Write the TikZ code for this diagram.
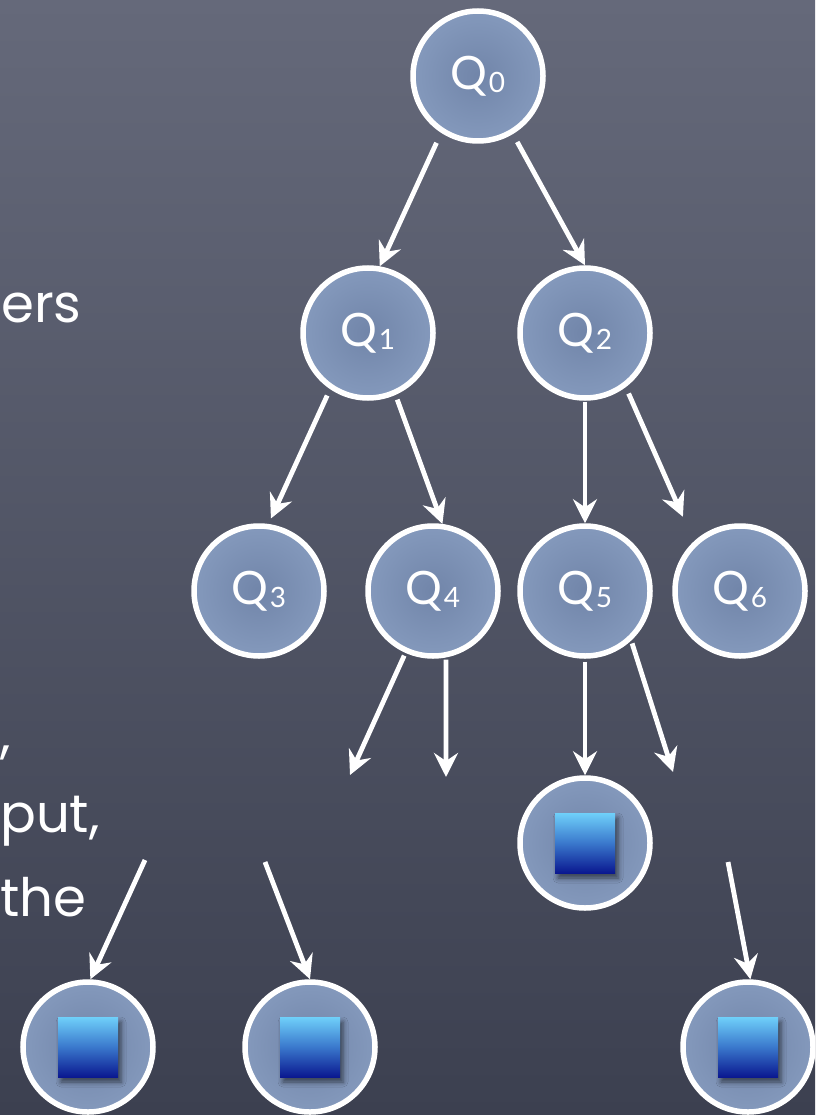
\documentclass[tikz,border=0pt]{standalone}
\usepackage{fontspec}
\setmainfont{Poppins}
\newfontfamily\qfont{Lato}
\usetikzlibrary{arrows.meta,shadows.blur}

\definecolor{bgtop}{HTML}{65697A}
\definecolor{bgmid}{HTML}{555969}
\definecolor{bgbot}{HTML}{3C4050}
\definecolor{nodein}{HTML}{7185A9}
\definecolor{nodeout}{HTML}{8499BC}
\definecolor{boxtop}{HTML}{6FD0FA}
\definecolor{boxmid}{HTML}{3A78CC}
\definecolor{boxbot}{HTML}{0A1890}

% state label: Q with a lowered index
\newcommand\qlabel[1]{{\qfont\fontsize{46}{46}\selectfont Q\kern1pt\lower3pt\hbox{\fontsize{28}{28}\selectfont #1}}}

\tikzset{
  state/.style={circle, draw=white, line width=5.5pt, inner color=nodein, outer color=nodeout,
    minimum size=130pt, inner sep=0pt, text=white},
  leafbox/.style={rectangle, minimum size=60pt, inner sep=0pt,
    top color=boxtop, bottom color=boxbot, middle color=boxmid,
    blur shadow={shadow xshift=3pt, shadow yshift=-5pt, shadow blur radius=5pt, shadow opacity=55}},
  link/.style={draw=white, line width=4.8pt, -{Stealth[length=24pt,width=24pt,inset=8pt]}},
  body/.style={anchor=base west, inner sep=0pt, text=white, font=\fontsize{53}{53}\selectfont},
}

\begin{document}
\begin{tikzpicture}[x=1pt,y=-1pt]
\useasboundingbox (0,0) rectangle (815,1115);
\clip (0,0) rectangle (815,1115);
\shade[top color=bgtop, middle color=bgmid, bottom color=bgbot] (0,0) rectangle (815,1115);

% text running in from the left
\node[body] (t1) at (1,322) {ers};
\node[body] (t2) at (0,752) {,};
\node[body] (t3) at (0,832) {put,};
\node[body] (t4) at (0,916) {the};

% tree of states
\node[state] (Q0) at (478,76)  {\qlabel{0}};
\node[state] (Q1) at (368,333) {\qlabel{1}};
\node[state] (Q2) at (585,333) {\qlabel{2}};
\node[state] (Q3) at (259,591) {\qlabel{3}};
\node[state] (Q4) at (433,591) {\qlabel{4}};
\node[state] (Q5) at (585,591) {\qlabel{5}};
\node[state] (Q6) at (740,591) {\qlabel{6}};

% leaves holding a square
\node[state] (L5) at (585,843)  {};
\node[state] (LA) at (88,1047)  {};
\node[state] (LB) at (310,1047) {};
\node[state] (LC) at (748,1047) {};
\node[leafbox] (B5) at (L5) {};
\node[leafbox] (BA) at (LA) {};
\node[leafbox] (BB) at (LB) {};
\node[leafbox] (BC) at (LC) {};

% loose arrow ends
\coordinate (F4a) at (350,775);
\coordinate (F4b) at (446,777);
\coordinate (F5b) at (673,772);
\coordinate (SA) at (145,860);
\coordinate (SB) at (265,862);
\coordinate (SC) at (728,862);

% arrows
\draw[link, shorten <=11pt] (Q0.237) -- (Q1.80);
\draw[link, shorten <=9pt]  (Q0.301) -- (Q2.90);
\draw[link, shorten <=7pt, shorten >=6pt] (Q1.236) -- (Q3.82);
\draw[link, shorten <=5pt]  (Q1.294) -- (Q4.82);
\draw[link, shorten <=1pt]  (Q2.270) -- (Q5.90);
\draw[link, shorten <=7pt, shorten >=27pt] (Q2.307) -- (Q6.133);
\draw[link, shorten <=3pt]  (Q4.246) -- (F4a);
\draw[link, shorten <=2pt]  (Q4.281) -- (F4b);
\draw[link, shorten <=3pt]  (Q5.270) -- (L5.north);
\draw[link, shorten <=3pt]  (Q5.313) -- (F5b);
\draw[link] (SA) -- (LA.88);
\draw[link] (SB) -- (LB.north);
\draw[link] (SC) -- (LC.88);
\end{tikzpicture}
\end{document}
